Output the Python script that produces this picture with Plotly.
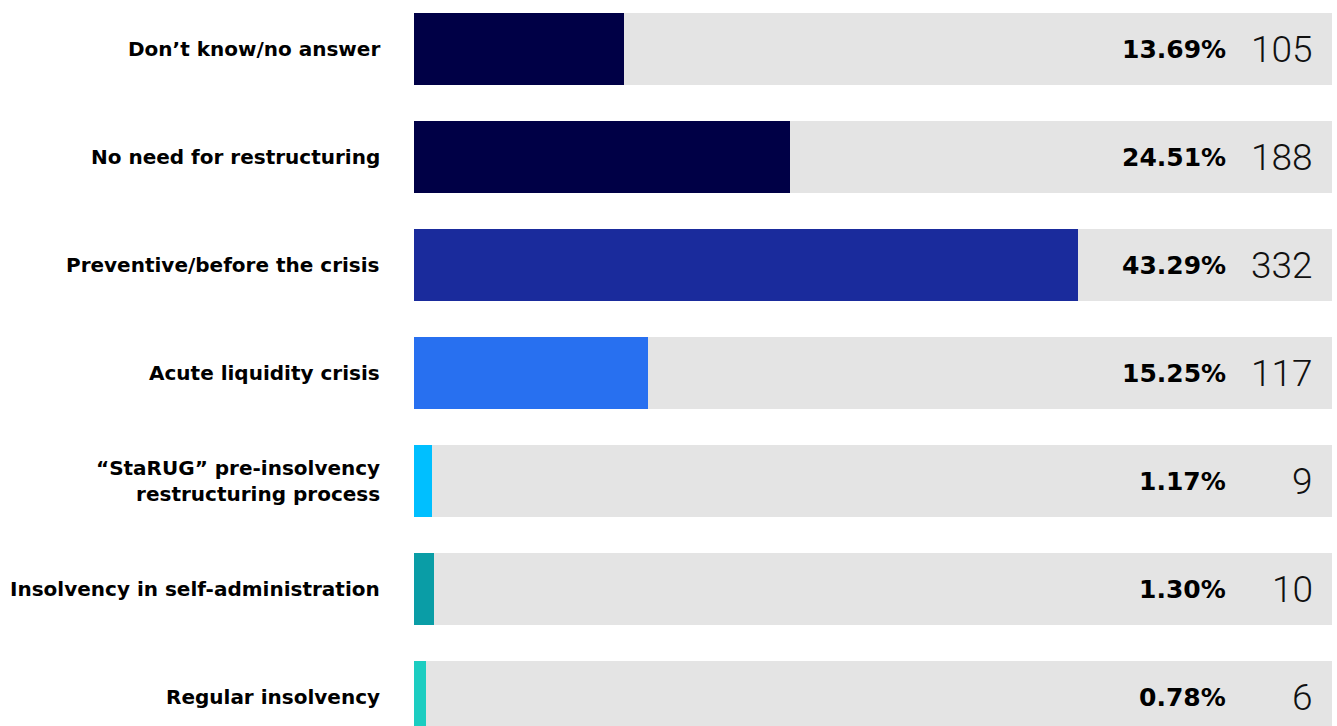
import plotly.graph_objects as go

# Survey: timing / form of restructuring
categories = [
    "Don’t know/no answer",
    "No need for restructuring",
    "Preventive/before the crisis",
    "Acute liquidity crisis",
    "“StaRUG” pre-insolvency<br>restructuring process",
    "Insolvency in self-administration",
    "Regular insolvency",
]
shares = [13.69, 24.51, 43.29, 15.25, 1.17, 1.30, 0.78]
counts = [105, 188, 332, 117, 9, 10, 6]
colors = ["#000046", "#000046", "#1A2B9C", "#2870F0", "#00BFFF", "#0A9DA6", "#1CCDC1"]

X_MAX = 59.85          # right end of the grey track, in percent
BAR_W = 0.667          # bar thickness in category units
TRACK = "#E4E4E4"

W, H = 1337, 726
M_L, M_R = 414, 5
ROW_PX = 108
FIRST_CENTER_PX = 49

pos = list(range(len(categories)))

fig = go.Figure()

# grey background tracks
fig.add_trace(go.Bar(
    y=pos, x=[X_MAX] * len(pos), orientation="h", width=BAR_W,
    marker=dict(color=TRACK, line=dict(width=0)), hoverinfo="skip",
    showlegend=False,
))
# value bars
fig.add_trace(go.Bar(
    y=pos, x=shares, orientation="h", width=BAR_W,
    marker=dict(color=colors, line=dict(width=0)),
    showlegend=False,
))

plot_w = W - M_L - M_R
pct_x = (1228 - M_L) / plot_w
cnt_x = (1315 - M_L) / plot_w

annotations = []
for i, (cat, s, c) in enumerate(zip(categories, shares, counts)):
    annotations.append(dict(
        x=0, xref="paper", y=i, yref="y", text=cat, showarrow=False,
        xanchor="right", yanchor="middle", xshift=-32, align="right",
        font=dict(family="DejaVu Sans", size=20, color="#000000", weight="bold"),
    ))
    annotations.append(dict(
        x=pct_x, xref="paper", y=i, yref="y", text=f"{s:.2f}%", showarrow=False,
        xanchor="right", yanchor="middle",
        font=dict(family="DejaVu Sans", size=25, color="#000000", weight="bold"),
    ))
    annotations.append(dict(
        x=cnt_x, xref="paper", y=i, yref="y", text=str(c), showarrow=False,
        xanchor="right", yanchor="middle",
        font=dict(family="Roboto", size=37, color="#111111", weight=300),
    ))

y_top = -FIRST_CENTER_PX / ROW_PX
y_bot = y_top + H / ROW_PX

fig.update_layout(
    width=W, height=H,
    margin=dict(l=M_L, r=M_R, t=0, b=0),
    paper_bgcolor="#FFFFFF", plot_bgcolor="rgba(0,0,0,0)",
    barmode="overlay", bargap=0,
    xaxis=dict(range=[0, X_MAX], visible=False, fixedrange=True),
    yaxis=dict(range=[y_bot, y_top], visible=False, fixedrange=True),
    annotations=annotations,
)

fig.write_html("out.html")
